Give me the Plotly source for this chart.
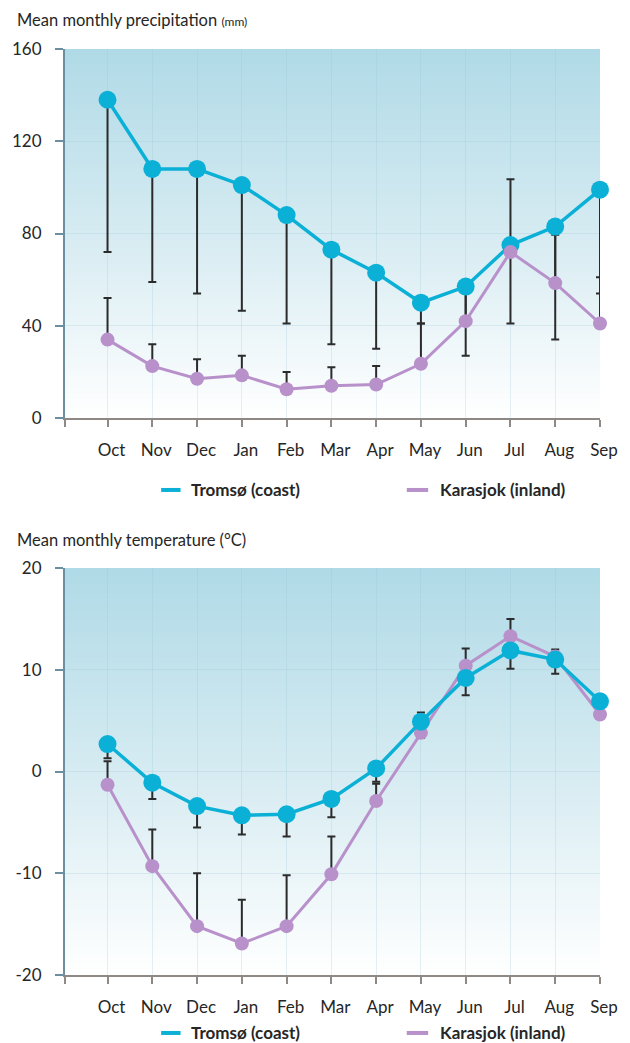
import base64
import struct
import zlib

import plotly.graph_objects as go

# ---- data -------------------------------------------------------------
months = ["Oct", "Nov", "Dec", "Jan", "Feb", "Mar", "Apr", "May", "Jun", "Jul", "Aug", "Sep"]

# precipitation (mm): mean and standard deviation
tromso_precip = [138, 108, 108, 101, 88, 73, 63, 50, 57, 75, 83, 99]
tromso_precip_sd = [66, 49, 54, 54.5, 47, 41, 33, 9, 30, 34, 49, 45]
karasjok_precip = [34, 22.5, 17, 18.5, 12.5, 14, 14.5, 23.5, 42, 72, 58.5, 41]
karasjok_precip_sd = [18, 9.5, 8.5, 8.5, 7.5, 8, 8, 17.5, 14, 31.5, 21, 20]

# temperature (degC): mean and standard deviation
tromso_temp = [2.7, -1.1, -3.4, -4.3, -4.2, -2.7, 0.3, 4.9, 9.2, 11.9, 11.0, 6.9]
tromso_temp_sd = [1.4, 1.6, 2.1, 1.9, 2.2, 1.8, 1.3, 1.6, 1.7, 1.8, 1.4, 1.7]
karasjok_temp = [-1.3, -9.3, -15.2, -16.9, -15.2, -10.1, -2.9, 3.8, 10.4, 13.3, 11.3, 5.6]
karasjok_temp_sd = [2.3, 3.6, 5.2, 4.3, 5.0, 3.7, 1.7, 2.0, 1.7, 1.7, 0.7, 0.5]

precip_ticks = [0, 40, 80, 120, 160]
temp_ticks = [-20, -10, 0, 10, 20]
temp_tick_text = ["-20", "-10", "0", "10", "20"]

# ---- style ------------------------------------------------------------
FONT = "Lato"
TXT = "#262626"
C_TROMSO = "#0bb0d6"
C_KARASJOK = "#b891cb"
BAR = "#2b2b2b"
YLINE = "#6b8fa0"
XLINE = "#8e8984"
GRID = "rgba(150,195,212,0.25)"

pos = list(range(len(months)))
x_start = -0.95


def gradient_png(stops, n=256, w=4):
    """Vertical gradient PNG (top -> bottom) as a data URI."""
    raw = b""
    for i in range(n):
        t = i / (n - 1)
        for k in range(len(stops) - 1):
            t0, c0 = stops[k]
            t1, c1 = stops[k + 1]
            if t0 <= t <= t1:
                f = (t - t0) / (t1 - t0) if t1 > t0 else 0
                rgb = [round(a + (b - a) * f) for a, b in zip(c0, c1)]
                break
        raw += b"\x00" + bytes(rgb) * w

    def chunk(tag, data):
        return (struct.pack(">I", len(data)) + tag + data
                + struct.pack(">I", zlib.crc32(tag + data) & 0xFFFFFFFF))

    png = (b"\x89PNG\r\n\x1a\n"
           + chunk(b"IHDR", struct.pack(">IIBBBBB", w, n, 8, 2, 0, 0, 0))
           + chunk(b"IDAT", zlib.compress(raw))
           + chunk(b"IEND", b""))
    return "data:image/png;base64," + base64.b64encode(png).decode()


bg = gradient_png([(0.0, (176, 218, 231)), (0.55, (218, 237, 243)), (1.0, (255, 255, 255))])


def err_trace(y, sd, up, xa, ya):
    zeros = [0] * len(sd)
    err = dict(type="data", symmetric=False, color=BAR, thickness=2, width=4,
               array=sd if up else zeros, arrayminus=zeros if up else sd)
    return go.Scatter(x=pos, y=y, mode="markers", marker=dict(size=1, opacity=0),
                      error_y=err, xaxis=xa, yaxis=ya, showlegend=False,
                      hoverinfo="skip", cliponaxis=False)


def line_trace(y, name, color, size, width, xa, ya):
    return go.Scatter(x=pos, y=y, name=name, mode="lines+markers",
                      line=dict(color=color, width=width),
                      marker=dict(size=size, color=color),
                      xaxis=xa, yaxis=ya, showlegend=False, cliponaxis=False)


fig = go.Figure()

# precipitation panel: error bars first, Karasjok drawn over Tromsø
fig.add_trace(err_trace(tromso_precip, tromso_precip_sd, False, "x", "y"))
fig.add_trace(err_trace(karasjok_precip, karasjok_precip_sd, True, "x", "y"))
fig.add_trace(line_trace(tromso_precip, "Tromsø (coast)", C_TROMSO, 18, 3.5, "x", "y"))
fig.add_trace(line_trace(karasjok_precip, "Karasjok (inland)", C_KARASJOK, 14, 3, "x", "y"))

# temperature panel: Tromsø drawn over Karasjok
fig.add_trace(err_trace(tromso_temp, tromso_temp_sd, False, "x2", "y2"))
fig.add_trace(err_trace(karasjok_temp, karasjok_temp_sd, True, "x2", "y2"))
fig.add_trace(line_trace(karasjok_temp, "Karasjok (inland)", C_KARASJOK, 14, 3, "x2", "y2"))
fig.add_trace(line_trace(tromso_temp, "Tromsø (coast)", C_TROMSO, 18, 3.5, "x2", "y2"))

xaxis_common = dict(
    range=[x_start, 11], tickvals=[x_start] + pos, ticktext=[""] + months,
    ticks="outside", ticklen=7, tickwidth=1.5, tickcolor=XLINE,
    showline=True, linecolor=XLINE, linewidth=2,
    showgrid=True, gridcolor=GRID, gridwidth=1, zeroline=False,
    tickfont=dict(family=FONT, size=17, color=TXT),
    ticklabelstandoff=9, ticklabelshift=4, fixedrange=True,
)
yaxis_common = dict(
    ticks="outside", ticklen=8, tickwidth=1.5, tickcolor=YLINE,
    showline=True, linecolor=YLINE, linewidth=2,
    showgrid=True, gridcolor=GRID, gridwidth=1, zeroline=False,
    tickfont=dict(family=FONT, size=17, color=TXT),
    ticklabelstandoff=10, fixedrange=True,
)

TOP_DOM = [0.6015, 1.0]
BOT_DOM = [0.0, 0.4395]

fig.update_layout(
    width=630, height=1043,
    margin=dict(l=58, r=21, t=49, b=68),
    paper_bgcolor="white", plot_bgcolor="rgba(0,0,0,0)",
    font=dict(family=FONT, color=TXT),
    showlegend=False,
    xaxis=dict(xaxis_common, anchor="y", domain=[0, 1]),
    yaxis=dict(yaxis_common, anchor="x", domain=TOP_DOM, range=[0, 160], tickvals=precip_ticks),
    xaxis2=dict(xaxis_common, anchor="y2", domain=[0, 1]),
    yaxis2=dict(yaxis_common, anchor="x2", domain=BOT_DOM, range=[-20, 20],
                tickvals=temp_ticks, ticktext=temp_tick_text),
    images=[
        dict(source=bg, xref="x domain", yref="y domain", x=0, y=1, sizex=1, sizey=1,
             xanchor="left", yanchor="top", sizing="stretch", layer="below"),
        dict(source=bg, xref="x2 domain", yref="y2 domain", x=0, y=1, sizex=1, sizey=1,
             xanchor="left", yanchor="top", sizing="stretch", layer="below"),
    ],
)

# panel titles
fig.add_annotation(text="Mean monthly precipitation <span style='font-size:12px'>(mm)</span>",
                   xref="paper", yref="paper", x=0, y=1.0313, xshift=-50,
                   xanchor="left", yanchor="middle", showarrow=False,
                   font=dict(family=FONT, size=16.5, color=TXT))
fig.add_annotation(text="Mean monthly temperature (°C)",
                   xref="paper", yref="paper", x=0, y=0.4698, xshift=-50,
                   xanchor="left", yanchor="middle", showarrow=False,
                   font=dict(family=FONT, size=16.5, color=TXT))

# legend keys under each panel
legend_rows = [0.5238, -0.0626]
legend_items = [("Tromsø (coast)", C_TROMSO, 0.1797, 0.2160, 0.2323),
                ("Karasjok (inland)", C_KARASJOK, 0.6388, 0.6788, 0.6969)]
for ly in legend_rows:
    for label, color, lx0, lx1, tx in legend_items:
        fig.add_shape(type="line", xref="paper", yref="paper", x0=lx0, x1=lx1, y0=ly, y1=ly,
                      line=dict(color=color, width=4))
        fig.add_annotation(text="<b>%s</b>" % label, xref="paper", yref="paper", x=tx, y=ly,
                           xanchor="left", yanchor="middle", showarrow=False,
                           font=dict(family=FONT, size=17, color=TXT))

fig.write_html("out.html")
